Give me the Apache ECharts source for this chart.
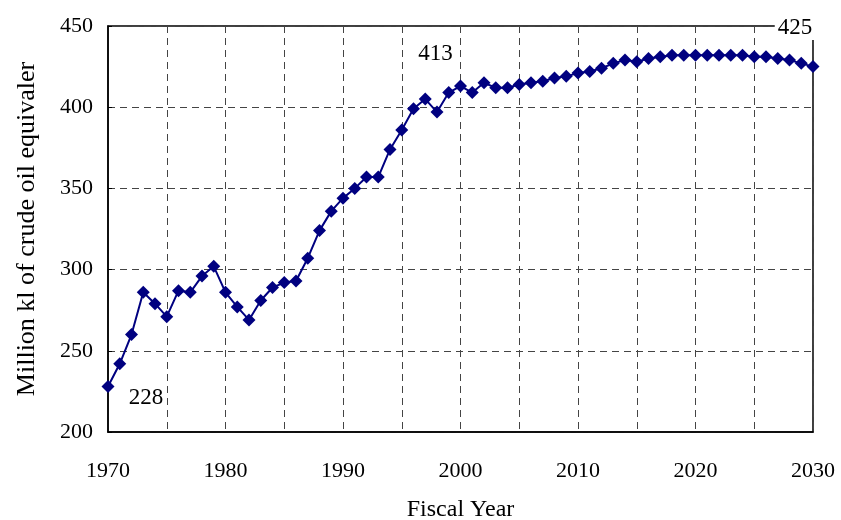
<!DOCTYPE html>
<html><head><meta charset="utf-8">
<script src="https://cdn.jsdelivr.net/npm/echarts@6/dist/echarts.min.js"></script>
<style>html,body{margin:0;padding:0;background:#fff}#c{width:841px;height:520px}</style>
</head><body><div id="c"></div>
<script>
const years = [];
for (let y = 1970; y <= 2030; y++) years.push(y);
const values = [
 228,242,260,286,279,271,287,286,296,302,
 286,277,269,281,289,292,293,307,324,336,
 344,350,357,357,374,386,399,405,397,409,
 413,409,415,412,412,414,415,416,418,419,
 421,422,424,427,429,428,430,431,432,432,
 432,432,432,432,432,431,431,430,429,427,
 425
];
const labelYears = [1970, 2000, 2030];
const labelTexts = ['228', '413', '425'];
const labelOffsets = [[38, 11], [-25, -32], [-18, -39]];

const font = 'Liberation Serif';
const chart = echarts.init(document.getElementById('c'), null, { renderer: 'canvas' });
chart.setOption({
  animation: false,
  grid: { left: 108, right: 28, top: 26, bottom: 88, show: true, borderColor: '#000', borderWidth: 1.5,
          backgroundColor: 'transparent', containLabel: false, outerBoundsMode: 'none' },
  xAxis: {
    type: 'value', min: 1970, max: 2030, interval: 5,
    name: 'Fiscal Year', nameLocation: 'middle', nameGap: 66,
    nameTextStyle: { fontFamily: font, fontSize: 24, color: '#000' },
    axisLine: { show: true, lineStyle: { color: '#000', width: 1.5 } },
    axisTick: { show: false },
    axisLabel: { fontFamily: font, fontSize: 22, color: '#000', margin: 28,
      formatter: v => (v % 10 === 0 ? String(v) : '') },
    splitLine: { show: true, lineStyle: { color: '#444', type: [7, 5], width: 1 } }
  },
  yAxis: {
    type: 'value', min: 200, max: 450, interval: 50,
    name: 'Million kl of crude oil equivaler', nameLocation: 'middle', nameGap: 68,
    nameTextStyle: { fontFamily: font, fontSize: 26, color: '#000' },
    axisLine: { show: true, lineStyle: { color: '#000', width: 1.5 } },
    axisTick: { show: true, inside: true, length: 4, lineStyle: { color: '#000' } },
    axisLabel: { fontFamily: font, fontSize: 22, color: '#000', margin: 15 },
    splitLine: { show: true, lineStyle: { color: '#444', type: [7, 5], width: 1 } }
  },
  series: [{
    type: 'line', data: years.map((y, i) => [y, values[i]]),
    symbol: 'diamond', symbolSize: 13, clip: false,
    itemStyle: { color: '#000080' },
    lineStyle: { color: '#000080', width: 2 },
    label: { show: false }, z: 2
  }]
});

// annotation labels, positioned through the chart's own scales
const graphics = labelYears.map((y, k) => {
  const p = chart.convertToPixel({ gridIndex: 0 }, [y, values[years.indexOf(y)]]);
  return {
    type: 'text', z: 100,
    x: p[0] + labelOffsets[k][0], y: p[1] + labelOffsets[k][1],
    style: {
      text: labelTexts[k], fill: '#000', font: '23px "Liberation Serif"',
      align: 'center', verticalAlign: 'middle',
      backgroundColor: '#fff', padding: [1, 3]
    }
  };
});
chart.setOption({ graphic: graphics });
</script></body></html>
